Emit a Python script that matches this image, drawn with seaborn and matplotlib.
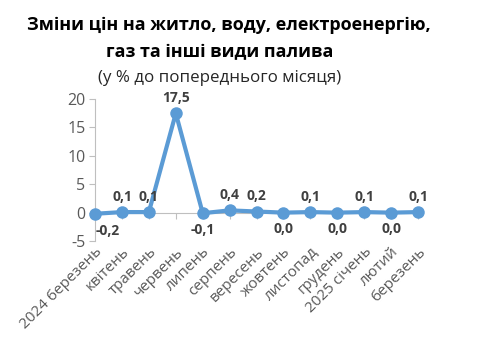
import pandas as pd
import matplotlib
import matplotlib.pyplot as plt
import seaborn as sns

matplotlib.use('Agg')

# Дані графіка
months = ['2024 березень', 'квітень', 'травень', 'червень', 'липень', 'серпень',
          'вересень', 'жовтень', 'листопад', 'грудень', '2025 січень', 'лютий', 'березень']
values = [-0.2, 0.1, 0.1, 17.5, -0.1, 0.4, 0.2, 0.0, 0.1, 0.0, 0.1, 0.0, 0.1]
label_below = [True, False, False, False, True, False, False, True, False, True, False, True, False]

df = pd.DataFrame({'pos': range(len(months)), 'value': values})

sns.set_style('white')
plt.rcParams['font.family'] = ['Open Sans', 'DejaVu Sans']
plt.rcParams['axes.unicode_minus'] = False

fig = plt.figure(figsize=(4.8, 3.63), dpi=100)
ax = fig.add_axes([0.198, 0.336, 0.673, 0.391])

blue = '#5B9BD5'
sns.lineplot(data=df, x='pos', y='value', ax=ax, color=blue, linewidth=3,
             marker='o', markersize=9, markeredgewidth=0, zorder=3, clip_on=False)

# Підписи значень
for i, (v, below) in enumerate(zip(values, label_below)):
    txt = f'{v:.1f}'.replace('.', ',')
    dy = -7 if below else 6
    dx = 9 if i == 0 else 0
    ax.annotate(txt, (i, v), xytext=(dx, dy), textcoords='offset points',
                ha='center', va='top' if below else 'bottom',
                fontsize=10, fontweight='bold', color='#404040')

ax.set_xlim(0, len(months) - 1)
ax.set_ylim(-5, 20)
ax.set_yticks([-5, 0, 5, 10, 15, 20])
ax.set_xticks(range(len(months)))
ax.set_xticklabels(months)
ax.set_xlabel('')
ax.set_ylabel('')

for s in ['top', 'right']:
    ax.spines[s].set_visible(False)
ax.spines['left'].set_color('#BFBFBF')
ax.spines['bottom'].set_color('#BFBFBF')
ax.spines['bottom'].set_position(('data', 0))
ax.tick_params(axis='y', length=4, color='#BFBFBF', labelcolor='#595959',
               labelsize=11.5, pad=3, left=True)
ax.tick_params(axis='x', length=4, color='#BFBFBF', labelcolor='#595959',
               labelsize=11, pad=19, bottom=True, labelrotation=45)
plt.setp(ax.get_xticklabels(), ha='right', rotation_mode='anchor')

fig.text(0.477, 0.932, 'Зміни цін на житло, воду, електроенергію,', ha='center', va='center',
         fontsize=13, fontweight='bold', color='#000000')
fig.text(0.457, 0.857, 'газ та інші види палива', ha='center', va='center',
         fontsize=13, fontweight='bold', color='#000000')
fig.text(0.457, 0.785, '(у % до попереднього місяця)', ha='center', va='center',
         fontsize=12.2, color='#262626')

plt.savefig('out.png', dpi=100)
plt.close()
